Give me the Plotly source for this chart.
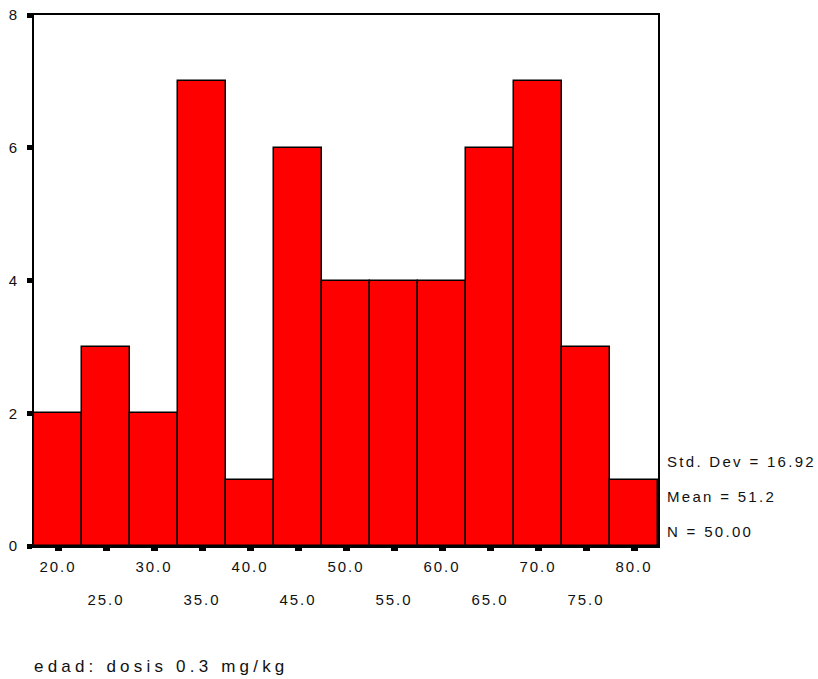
import plotly.graph_objects as go

# Histogram of age (edad) for the 0.3 mg/kg dose group, 5-year bins
bin_centers = [20.0, 25.0, 30.0, 35.0, 40.0, 45.0, 50.0, 55.0, 60.0, 65.0, 70.0, 75.0, 80.0]
counts = [2, 3, 2, 7, 1, 6, 4, 4, 4, 6, 7, 3, 1]
bin_width = 5.0
y_ticks = [0, 2, 4, 6, 8]
stats_lines = ["Std. Dev = 16.92", "Mean = 51.2", "N = 50.00"]
stats_y = [1.27, 0.75, 0.22]
title_text = "edad: dosis 0.3 mg/kg"

# SPSS-style staggered labels: even bins on the first row, odd bins on the second
row1_text = [f"{c:.1f}" if i % 2 == 0 else "" for i, c in enumerate(bin_centers)]
row2_vals = [c for i, c in enumerate(bin_centers) if i % 2 == 1]
row2_text = [f"{c:.1f}" for c in row2_vals]

FONT = "Liberation Sans, Arial, sans-serif"
TXT = "#111111"
x_range = [bin_centers[0] - bin_width / 2, bin_centers[-1] + bin_width / 2]

fig = go.Figure()
fig.add_trace(
    go.Bar(
        x=bin_centers,
        y=counts,
        width=bin_width,
        marker=dict(color="#FF0000", line=dict(color="black", width=1.5)),
        hoverinfo="x+y",
    )
)
# carrier trace for the second label row
fig.add_trace(
    go.Scatter(
        x=row2_vals,
        y=[0] * len(row2_vals),
        xaxis="x2",
        mode="markers",
        marker=dict(opacity=0),
        hoverinfo="skip",
    )
)

fig.update_layout(
    width=818,
    height=679,
    margin=dict(l=34, r=160, t=15, b=133),
    paper_bgcolor="white",
    plot_bgcolor="white",
    bargap=0,
    showlegend=False,
    font=dict(family=FONT, size=15, color=TXT),
    xaxis=dict(
        range=x_range,
        tickvals=bin_centers,
        ticktext=row1_text,
        ticks="outside",
        ticklen=3,
        tickwidth=7,
        tickcolor="black",
        showline=True,
        linecolor="black",
        linewidth=2,
        mirror=True,
        showgrid=False,
        zeroline=False,
        automargin=False,
        tickfont=dict(size=15, family=FONT, color=TXT),
        ticklabelstandoff=3,
    ),
    xaxis2=dict(
        range=x_range,
        overlaying="x",
        anchor="y",
        side="bottom",
        tickvals=row2_vals,
        ticktext=row2_text,
        ticks="",
        showline=False,
        showgrid=False,
        zeroline=False,
        automargin=False,
        tickfont=dict(size=15, family=FONT, color=TXT),
        ticklabelstandoff=43,
    ),
    yaxis=dict(
        range=[0, 8],
        tickvals=y_ticks,
        ticks="outside",
        ticklen=5,
        tickwidth=5,
        tickcolor="black",
        showline=True,
        linecolor="black",
        linewidth=2,
        mirror=True,
        showgrid=False,
        zeroline=False,
        automargin=False,
        tickfont=dict(size=15, family=FONT, color=TXT),
        ticklabelstandoff=5,
    ),
)

for txt, yv in zip(stats_lines, stats_y):
    fig.add_annotation(
        text=txt,
        xref="paper",
        yref="y",
        x=1,
        y=yv,
        xanchor="left",
        yanchor="middle",
        xshift=7,
        showarrow=False,
        font=dict(size=15, family=FONT, color=TXT),
        align="left",
    )

fig.add_annotation(
    text=title_text,
    xref="paper",
    yref="paper",
    x=0,
    y=0,
    xanchor="left",
    yanchor="middle",
    yshift=-120,
    xshift=-2,
    showarrow=False,
    align="left",
    font=dict(size=17, family=FONT, color=TXT),
)

# widen letter spacing of all chart text
post = """
var gd = document.getElementsByClassName('plotly-graph-div')[0];
function spread(){
  gd.querySelectorAll('.xtick text, .x2tick text, .ytick text').forEach(function(t){t.style.letterSpacing='2px';});
  gd.querySelectorAll('.annotation-text').forEach(function(t){
    t.style.letterSpacing = (t.textContent.indexOf('edad')===0) ? '4.2px' : '2.3px';
  });
}
spread();
gd.on('plotly_afterplot', spread);
"""

fig.write_html("out.html", post_script=post)
